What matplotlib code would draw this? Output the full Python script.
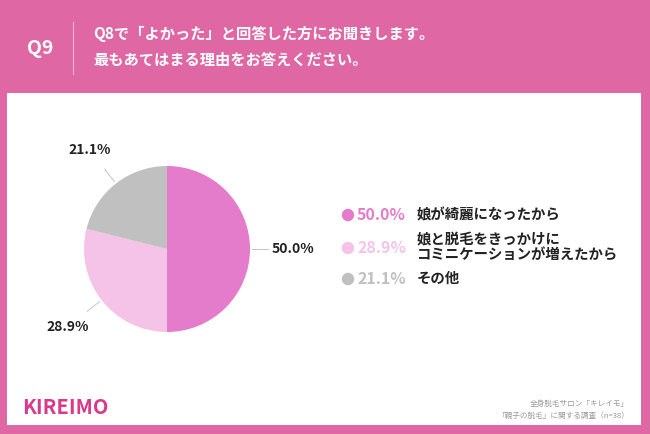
import matplotlib
matplotlib.use("Agg")
import matplotlib.pyplot as plt
from matplotlib.patches import Rectangle
import numpy as np

plt.rcParams["font.family"] = ["Noto Sans CJK JP", "DejaVu Sans"]

PINK_BG = "#DE67A4"
DARK = "#222222"

labels = ["娘が綺麗になったから",
          "娘と脱毛をきっかけに\nコミニケーションが増えたから",
          "その他"]
values = [50.0, 28.9, 21.1]
colors = ["#E47BCB", "#F5C3E7", "#C0C0C0"]

title_q = "Q9"
title_lines = "Q8で「よかった」と回答した方にお聞きします。\n最もあてはまる理由をお答えください。"
source_lines = "全身脱毛サロン「キレイモ」\n「親子の脱毛」に関する調査（n=38）"

W, H = 650, 434
fig = plt.figure(figsize=(W / 100, H / 100), dpi=100, facecolor=PINK_BG)

bg = fig.add_axes([0, 0, 1, 1])
bg.set_xlim(0, W)
bg.set_ylim(H, 0)
bg.axis("off")
bg.add_patch(Rectangle((7, 93), 634, 332, facecolor="white", edgecolor="none"))

# header
bg.text(40, 48, title_q, color="white", fontsize=14, fontweight="bold",
        ha="center", va="center")
bg.plot([73, 73], [22, 74], color="#F2B5D5", linewidth=0.8)
bg.text(93, 47, title_lines, color="white", fontsize=11, fontweight="bold",
        ha="left", va="center", linespacing=1.75)

# legend
leg_y = [215, 248, 279]
for y, lab, v, c in zip(leg_y, labels, values, colors):
    bg.scatter([348], [y], s=80, color=c, edgecolor="none")
    bg.text(357, y, f"{v:.1f}%", color=c, fontsize=11.5, fontweight="bold",
            ha="left", va="center")
    bg.text(417, y, lab, color=DARK, fontsize=10.4, fontweight="bold",
            ha="left", va="center", linespacing=1.12)

# footer
bg.text(22, 408, "KIREIMO", color="#D93A8C", fontsize=14.5, fontweight="bold",
        ha="left", va="center")
bg.text(629, 410, source_lines, color="#999999", fontsize=5.5,
        ha="right", va="center", linespacing=1.6)

# pie
cx, cy, r = 167, 249, 83
pa = fig.add_axes([(cx - r) / W, (H - cy - r) / H, 2 * r / W, 2 * r / H])
wedges, _ = pa.pie(values, colors=colors, startangle=90, counterclock=False,
                   radius=1, wedgeprops={"linewidth": 0})
pa.set_xlim(-1, 1)
pa.set_ylim(-1, 1)
pa.set_aspect("equal")
pa.axis("off")

for w, v in zip(wedges, values):
    ang = np.deg2rad((w.theta1 + w.theta2) / 2)
    dx, dy = np.cos(ang), np.sin(ang)
    pa.plot([1.03 * dx, 1.22 * dx], [1.03 * dy, 1.22 * dy],
            color="#BBBBBB", linewidth=0.6, clip_on=False)
    pa.text(1.52 * dx, 1.52 * dy, f"{v:.1f}%", color=DARK, fontsize=10,
            fontweight="bold", ha="center", va="center", clip_on=False)

fig.savefig("out.png", dpi=100, facecolor=PINK_BG)
